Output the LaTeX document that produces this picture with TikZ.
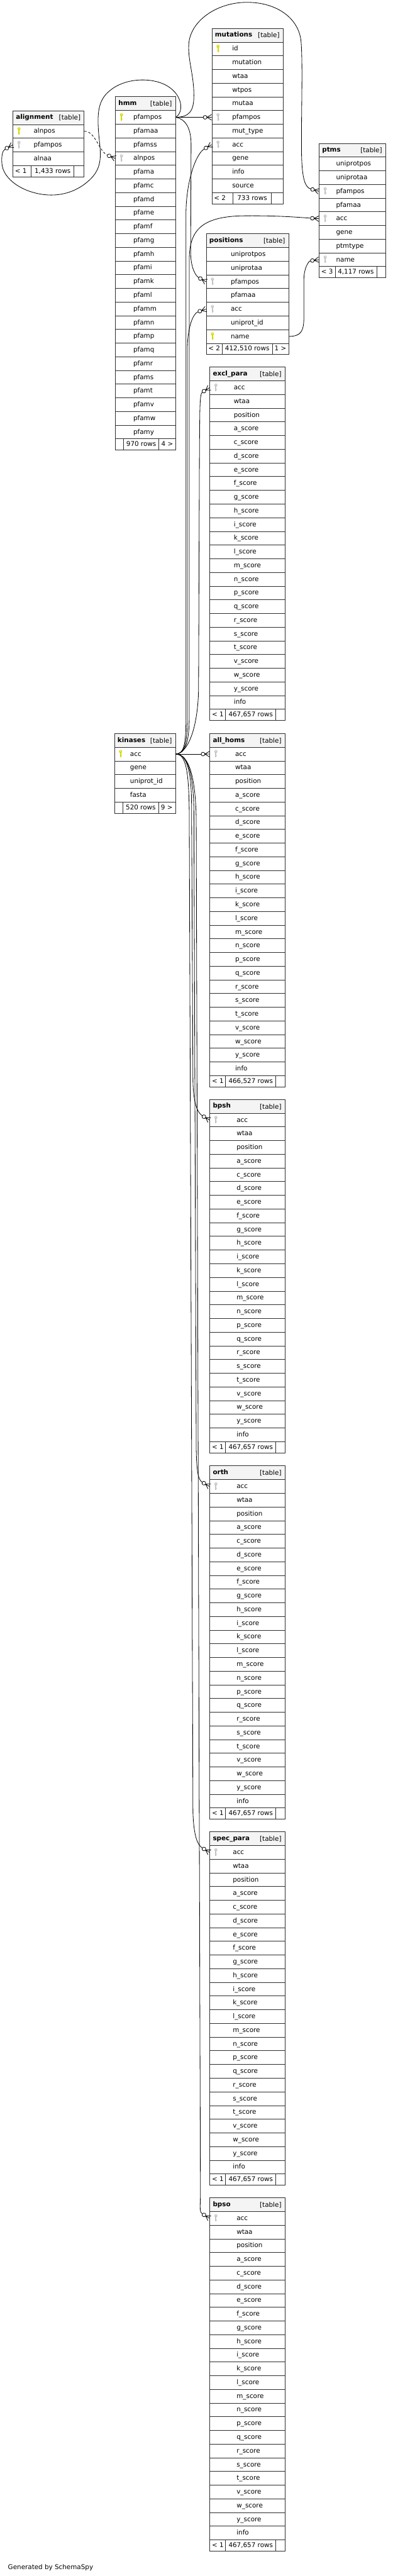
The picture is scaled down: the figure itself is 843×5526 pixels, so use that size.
\documentclass[tikz,border=0pt]{standalone}
\usepackage{fontspec}
\setmainfont{DejaVu Sans}
\usetikzlibrary{arrows.meta}
\definecolor{hdrfill}{HTML}{F4F4F4}
\definecolor{tblc}{HTML}{2E2E2E}
\definecolor{pkc}{HTML}{D8D800}
\definecolor{fkc}{HTML}{C4C4C4}
\pgfdeclarearrow{
  name=crowo,
  setup code={
    \pgfarrowssettipend{0pt}
    \pgfarrowssetlineend{-18pt}
    \pgfarrowssetvisualbackend{-18pt}
    \pgfarrowssetbackend{-18pt}
    \pgfarrowshullpoint{0pt}{6pt}
    \pgfarrowshullpoint{0pt}{-6pt}
    \pgfarrowshullpoint{-18pt}{0pt}
  },
  drawing code={
    \pgfsetdash{}{0pt}
    \pgfsetroundjoin
    \pgfpathmoveto{\pgfqpoint{0pt}{6pt}}
    \pgfpathlineto{\pgfqpoint{-10pt}{0pt}}
    \pgfpathlineto{\pgfqpoint{0pt}{-6pt}}
    \pgfpathmoveto{\pgfqpoint{-10pt}{0pt}}
    \pgfpathlineto{\pgfqpoint{0pt}{0pt}}
    \pgfusepathqstroke
    \pgfpathcircle{\pgfqpoint{-14pt}{0pt}}{4pt}
    \pgfsetfillcolor{white}
    \pgfusepathqfillstroke
  }
}
\tikzset{
  hdr/.style={draw=tblc,fill=hdrfill,minimum height=29.5,inner sep=0,line width=1pt},
  rowbox/.style={draw=tblc,fill=white,minimum height=29.35,inner sep=0,line width=1pt},
  footbox/.style={draw=tblc,fill=white,minimum height=24,inner sep=0,line width=1pt},
  tline/.style={draw=tblc,line width=1pt},
  txt/.style={inner sep=0,font=\fontsize{14}{17}\selectfont},
  btxt/.style={inner sep=0,font=\fontsize{14}{17}\selectfont\bfseries},
  rel/.style={draw=black,line width=1.1pt,-{crowo}},
  impl/.style={rel,dash pattern=on 5pt off 4pt}
}
\newcommand\keyicon[3]{%
  \fill[#3] (#1,#2-5) circle (3.3);
  \fill[#3] (#1-1.2,#2-3) rectangle (#1+1.2,#2+7.5);
  \fill[#3] (#1+1.2,#2+3.5) rectangle (#1+2.6,#2+5);
  \fill[white] (#1,#2-5.6) circle (1.1);
}
\newcommand\mktable[7]{%
  \node[hdr,minimum width=#4,anchor=north west] (#1) at (#2,#3) {};
  \node[btxt,anchor=base west] at (#2+7,#3+19) {#6};
  \node[txt,anchor=base east] at (#2+#4-7,#3+20.5) {[table]};
  \edef\rowlist{#7}%
  \foreach \k/\r [count=\i from 0] in \rowlist {%
    \pgfmathsetmacro\yy{#3+29.5+\i*29.35}%
    \node[rowbox,minimum width=#4,anchor=north west] (#1-\r) at (#2,\yy) {};
    \node[txt,anchor=base west] at (#2+#5,\yy+19.4) {\r};
    \if\k p\keyicon{#2+13.7}{\yy+14.675}{pkc}\fi
    \if\k f\keyicon{#2+13.7}{\yy+14.675}{fkc}\fi
  }%
}
\newcommand\mkfoot[9]{%
  \node[footbox,minimum width={#6-#3},anchor=north west] (#1-foot) at (#3,#2) {};
  \draw[tline] (#4,#2) -- (#4,#2+24);
  \draw[tline] (#5,#2) -- (#5,#2+24);
  \node[txt,anchor=base west] at (#3+5,#2+16.8) {#7};
  \node[txt,anchor=base] at ({(#4+#5)/2},#2+16.8) {#8};
  \node[txt,anchor=base west] at (#5+5,#2+16.8) {#9};
}
\catcode`\_=12
\def\scorerows{f/acc,n/wtaa,n/position,n/a_score,n/c_score,n/d_score,n/e_score,n/f_score,n/g_score,n/h_score,n/i_score,n/k_score,n/l_score,n/m_score,n/n_score,n/p_score,n/q_score,n/r_score,n/s_score,n/t_score,n/v_score,n/w_score,n/y_score,n/info}
\begin{document}
\begin{tikzpicture}[x=1pt,y=-1pt]
\fill[white] (0,0) rectangle (843,5526);
\useasboundingbox (0,0) rectangle (843,5526);

% ---------- tables ----------
\mktable{aln}{27}{237}{153}{45}{alignment}{p/alnpos,f/pfampos,n/alnaa}
\mkfoot{aln}{237+29.5+3*29.35}{27}{67}{159}{180}{< 1}{1,433 rows}{}

\mktable{hmm}{247}{207}{129}{39}{hmm}{p/pfampos,n/pfamaa,n/pfamss,f/alnpos,n/pfama,n/pfamc,n/pfamd,n/pfame,n/pfamf,n/pfamg,n/pfamh,n/pfami,n/pfamk,n/pfaml,n/pfamm,n/pfamn,n/pfamp,n/pfamq,n/pfamr,n/pfams,n/pfamt,n/pfamv,n/pfamw,n/pfamy}
\mkfoot{hmm}{207+29.5+24*29.35}{247}{265}{341}{376}{}{970 rows}{4 >}

\mktable{mut}{454}{60.25}{153}{44}{mutations}{p/id,n/mutation,n/wtaa,n/wtpos,n/mutaa,f/pfampos,n/mut_type,f/acc,n/gene,n/info,n/source}
\mkfoot{mut}{60.25+29.5+11*29.35}{454}{500}{582}{607}{< 2}{733 rows}{}

\mktable{ptms}{684}{307}{143}{37}{ptms}{n/uniprotpos,n/uniprotaa,f/pfampos,n/pfamaa,f/acc,n/gene,n/ptmtype,f/name}
\mkfoot{ptms}{307+29.5+8*29.35}{684}{719}{808}{827}{< 3}{4,117 rows}{}

\mktable{pos}{442}{501}{177}{53}{positions}{n/uniprotpos,n/uniprotaa,f/pfampos,n/pfamaa,f/acc,n/uniprot_id,p/name}
\mkfoot{pos}{501+29.5+7*29.35}{442}{477}{584}{619}{< 2}{412,510 rows}{1 >}

\mktable{excl}{449.5}{787}{161.5}{52}{excl_para}{\scorerows}
\mkfoot{excl}{787+29.5+24*29.35}{449.5}{484}{592}{611}{< 1}{467,657 rows}{}

\mktable{kin}{245}{1573}{131}{34}{kinases}{p/acc,n/gene,n/uniprot_id,n/fasta}
\mkfoot{kin}{1573+29.5+4*29.35}{245}{264}{340}{376}{}{520 rows}{9 >}

\mktable{allh}{449.5}{1573}{161.5}{55}{all_homs}{\scorerows}
\mkfoot{allh}{1573+29.5+24*29.35}{449.5}{484}{592}{611}{< 1}{466,527 rows}{}

\mktable{bpsh}{449.5}{2358}{161.5}{58}{bpsh}{\scorerows}
\mkfoot{bpsh}{2358+29.5+24*29.35}{449.5}{484}{592}{611}{< 1}{467,657 rows}{}

\mktable{orth}{449.5}{3144}{161.5}{58}{orth}{\scorerows}
\mkfoot{orth}{3144+29.5+24*29.35}{449.5}{484}{592}{611}{< 1}{467,657 rows}{}

\mktable{spec}{449.5}{3929}{161.5}{50}{spec_para}{\scorerows}
\mkfoot{spec}{3929+29.5+24*29.35}{449.5}{484}{592}{611}{< 1}{467,657 rows}{}

\mktable{bpso}{449.5}{4714}{161.5}{58}{bpso}{\scorerows}
\mkfoot{bpso}{4714+29.5+24*29.35}{449.5}{484}{592}{611}{< 1}{467,657 rows}{}

\node[txt,anchor=base west] (gen) at (17,5512) {Generated by SchemaSpy};

% ---------- relationships ----------
% alignment.pfampos -> hmm.pfampos
\draw[rel] (hmm-pfampos.east) .. controls (395,240) and (392,205) .. (360,185)
  .. controls (330,166) and (270,165) .. (235,195)
  .. controls (210,215) and (208,245) .. (212,290)
  .. controls (216,330) and (222,360) .. (190,388)
  .. controls (160,415) and (125,420) .. (100,418)
  .. controls (50,414) and (6,385) .. (4,350)
  .. controls (3,335) and (5,323) .. (aln-pfampos.west);
% hmm.alnpos -> alignment.alnpos (implied)
\draw[impl] (aln-alnpos.east) .. controls (205,281) and (212,325) .. (hmm-alnpos.west);
% mutations.pfampos -> hmm.pfampos
\draw[rel] (hmm-pfampos.east) -- (mut-pfampos.west);
% ptms.pfampos -> hmm.pfampos
\draw[rel] (hmm-pfampos.east) .. controls (405,251) and (416,240) .. (416,205)
  .. controls (416,160) and (403,130) .. (405,95)
  .. controls (408,45) and (465,5) .. (530,5)
  .. controls (595,5) and (642,40) .. (646,90)
  .. controls (650,140) and (646,250) .. (647,330)
  .. controls (648,385) and (655,402) .. (ptms-pfampos.west);
% positions.pfampos -> hmm.pfampos
\draw[rel] (hmm-pfampos.east) .. controls (398,255) and (410,275) .. (410,310)
  -- (409,540) .. controls (409,575) and (420,592) .. (pos-pfampos.west);
% ptms.name -> positions.name
\draw[rel] (pos-name.east) .. controls (645,721) and (652,712) .. (652,680)
  -- (652,600) .. controls (652,575) and (662,560) .. (ptms-name.west);
% ptms.acc -> kinases.acc
\draw[rel] (kin-acc.east) .. controls (398,1617) and (406,1590) .. (406,1540)
  -- (406,560) .. controls (406,500) and (425,465) .. (520,463)
  .. controls (600,462) and (650,467) .. (ptms-acc.west);
% positions.acc -> kinases.acc
\draw[rel] (kin-acc.east) .. controls (396,1617) and (402,1595) .. (402,1540)
  -- (402,750) .. controls (402,700) and (415,672) .. (pos-acc.west);
% mutations.acc -> kinases.acc
\draw[rel] (kin-acc.east) .. controls (394,1617) and (399,1600) .. (399,1540)
  -- (399,460) .. controls (399,390) and (420,330) .. (mut-acc.west);
% excl_para.acc -> kinases.acc
\draw[rel] (kin-acc.east) .. controls (400,1617) and (424,1570) .. (426,1480)
  -- (428,950) .. controls (429,880) and (428,845) .. (excl-acc.west);
% all_homs.acc -> kinases.acc
\draw[rel] (kin-acc.east) -- (allh-acc.west);
% bpsh.acc -> kinases.acc
\draw[rel] (kin-acc.east) .. controls (400,1617) and (410,1650) .. (411,1720)
  -- (414,2320) .. controls (415,2370) and (425,2388) .. (bpsh-acc.west);
% orth.acc -> kinases.acc
\draw[rel] (kin-acc.east) .. controls (403,1617) and (415,1660) .. (416,1740)
  -- (421,3110) .. controls (422,3160) and (426,3175) .. (orth-acc.west);
% spec_para.acc -> kinases.acc
\draw[rel] (kin-acc.east) .. controls (398,1617) and (405,1650) .. (406,1740)
  -- (414,3890) .. controls (416,3940) and (424,3958) .. (spec-acc.west);
% bpso.acc -> kinases.acc
\draw[rel] (kin-acc.east) .. controls (406,1617) and (420,1670) .. (421,1760)
  -- (430,4690) .. controls (431,4730) and (426,4744) .. (bpso-acc.west);
\end{tikzpicture}
\end{document}
